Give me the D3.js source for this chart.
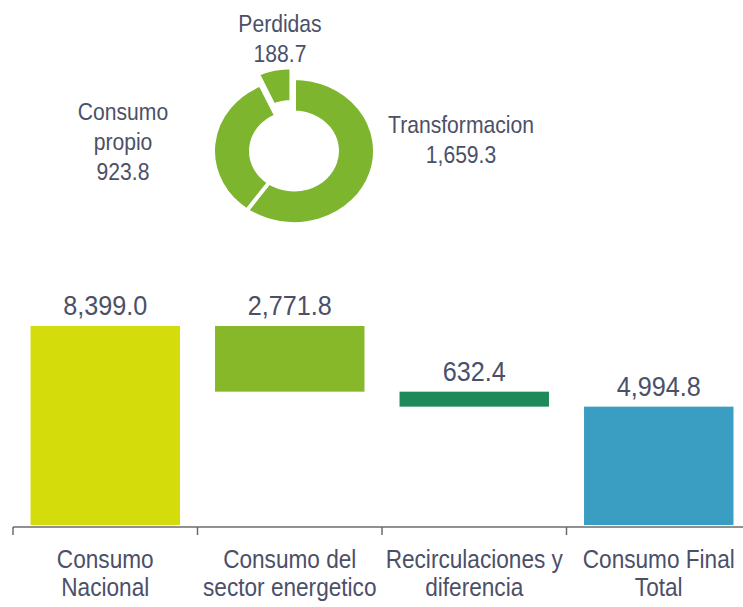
<!DOCTYPE html>
<html>
<head>
<meta charset="utf-8">
<script src="https://cdn.jsdelivr.net/npm/d3@7"></script>
<style>
  html, body { margin: 0; padding: 0; background: #ffffff; }
  svg { display: block; }
  text { fill: #4b5068; }
</style>
</head>
<body>
<svg id="chart" width="743" height="607"></svg>
<script>
// ---- data ----
const categories = [["Consumo", "Nacional"], ["Consumo del", "sector energetico"], ["Recirculaciones y", "diferencia"], ["Consumo Final", "Total"]];
const categoryKeys = ["nacional", "sector", "recirc", "final"];
const barValues = [8399.0, 2771.8, 632.4, 4994.8];
const barKinds = ["total", "decrease", "decrease", "total"];
const barColors = ["#d4dc0c", "#86b82a", "#1e8a5c", "#3a9dc2"];

const donutLabels = [["Transformacion"], ["Consumo", "propio"], ["Perdidas"]];
const donutValues = [1659.3, 923.8, 188.7];
const donutColor = "#7db52e";

const fmt = d3.format(",.1f");

const svg = d3.select("#chart");
const FONT = "'Liberation Sans', Arial, sans-serif";

// condensed text helper: a group positioned at (x, y) scaled horizontally
function condensedText(parent, px, py, lines, size, sx, lineGap) {
  const g = parent.append("g").attr("transform", `translate(${px},${py}) scale(${sx},1)`);
  const t = g.append("text")
    .attr("text-anchor", "middle")
    .style("font-family", FONT)
    .style("font-size", size + "px");
  lines.forEach((line, j) => {
    t.append("tspan").attr("x", 0).attr("y", j * lineGap).text(line);
  });
  return g;
}

// ---- waterfall ----
const x = d3.scaleBand().domain(categoryKeys).range([13, 751]).paddingInner(0.19).paddingOuter(0.095);
const y = d3.scaleLinear().domain([0, 8399]).range([525, 326]);

let running = 0;
const bars = barValues.map((v, i) => {
  let y0, y1;
  if (barKinds[i] === "total") { y0 = 0; y1 = v; running = v; }
  else { y1 = running; y0 = running - v; running = y0; }
  return { key: categoryKeys[i], v, y0, y1, color: barColors[i] };
});

svg.append("g").selectAll("rect").data(bars).join("rect")
  .attr("x", d => x(d.key))
  .attr("width", x.bandwidth())
  .attr("y", d => y(d.y1))
  .attr("height", d => y(d.y0) - y(d.y1))
  .attr("fill", d => d.color);

const valG = svg.append("g");
bars.forEach(d => {
  condensedText(valG, x(d.key) + x.bandwidth() / 2, y(d.y1) - 11, [fmt(d.v)], 28, 0.9, 0);
});

// axis
const axisY = 527;
const step = x.step();
const boundaries = d3.range(categoryKeys.length + 1).map(i => x.range()[0] + i * step);
const ax = svg.append("g");
ax.append("line").attr("x1", boundaries[0]).attr("x2", boundaries[boundaries.length - 1])
  .attr("y1", axisY).attr("y2", axisY).attr("stroke", "#6b6b6b").attr("stroke-width", 1.5);
ax.selectAll("line.tick").data(boundaries).join("line").attr("class", "tick")
  .attr("x1", d => d).attr("x2", d => d).attr("y1", axisY).attr("y2", axisY + 8)
  .attr("stroke", "#6b6b6b").attr("stroke-width", 1.5);

const catG = svg.append("g");
categoryKeys.forEach((k, i) => {
  condensedText(catG, x(k) + x.bandwidth() / 2, 568, categories[i], 26, 0.87, 28);
});

// ---- donut ----
const cx = 294, cy = 151;
const pie = d3.pie().sort(null).value(d => d)(donutValues);
const arc = d3.arc().innerRadius(43).outerRadius(81);
const dg = svg.append("g").attr("transform", `translate(${cx},${cy}) scale(1,0.9)`);
dg.selectAll("path").data(pie).join("path")
  .attr("d", arc)
  .attr("fill", donutColor)
  .attr("stroke", "#ffffff")
  .attr("stroke-width", 4)
  .attr("transform", (d, i) => {
    if (i !== 2) return null;
    const a = (d.startAngle + d.endAngle) / 2;
    return `translate(${Math.sin(a) * 12},${-Math.cos(a) * 12})`;
  });

// donut labels
const donutLabelPos = [
  { x: 461, y: 133 },
  { x: 123, y: 120 },
  { x: 280, y: 32 }
];
const donutG = svg.append("g");
donutLabels.forEach((lines, i) => {
  condensedText(donutG, donutLabelPos[i].x, donutLabelPos[i].y,
    lines.concat([fmt(donutValues[i])]), 24, 0.88, 30);
});
</script>
</body>
</html>
